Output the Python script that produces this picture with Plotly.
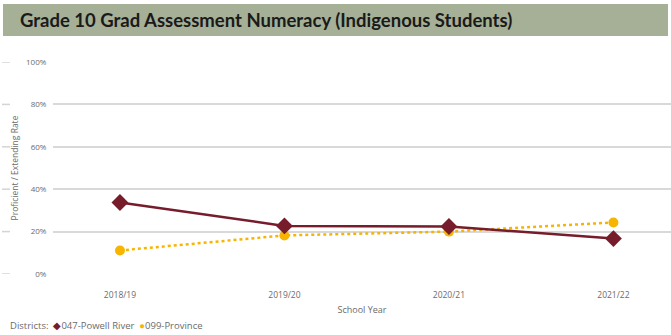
import plotly.graph_objects as go

# School years on the x axis
years = ["2018/19", "2019/20", "2020/21", "2021/22"]

# Proficient / Extending rate (%) for Indigenous students
powell_river = [33.7, 22.7, 22.4, 16.7]
province = [11.1, 18.2, 20.0, 24.3]

y_ticks = [0, 20, 40, 60, 80, 100]
y_tick_labels = ["0%", "20%", "40%", "60%", "80%", "100%"]

MAROON = "#761c2b"
GOLD = "#f7b500"
TEXT = "#6b6b6b"

W, H = 671, 335
ML, MR, MT, MB = 53, 0, 62, 61
PW, PH = W - ML - MR, H - MT - MB


def px_x(px):
    return (px - ML) / PW


def px_y(py):
    return (H - MB - py) / PH


fig = go.Figure()

fig.add_trace(go.Scatter(
    x=years, y=province, mode="lines+markers", name="099-Province",
    line=dict(color=GOLD, width=2.5, dash="dot"),
    marker=dict(symbol="circle", size=10, color=GOLD),
    cliponaxis=False, showlegend=False,
))
fig.add_trace(go.Scatter(
    x=years, y=powell_river, mode="lines+markers", name="047-Powell River",
    line=dict(color=MAROON, width=2.5),
    marker=dict(symbol="diamond", size=13, color=MAROON),
    cliponaxis=False, showlegend=False,
))

# Title banner
fig.add_shape(type="rect", xref="paper", yref="paper",
              x0=px_x(3), x1=px_x(668), y0=px_y(36), y1=px_y(4),
              fillcolor="#a5b096", line=dict(width=0), layer="below")
fig.add_annotation(xref="paper", yref="paper", x=px_x(18), y=px_y(20),
                   xanchor="left", yanchor="middle", showarrow=False,
                   text="<b>Grade 10 Grad Assessment Numeracy (Indigenous Students)</b>",
                   font=dict(family="Lato", size=18.5, color="#1a1a1a"))

# Faint tick marks at the left edge
for v in y_ticks:
    fig.add_shape(type="line", xref="paper", yref="y",
                  x0=px_x(2), x1=px_x(10), y0=v, y1=v,
                  line=dict(color="#d4d4d4", width=1.5))

# Legend line
fig.add_annotation(xref="paper", yref="paper", x=px_x(8), y=px_y(325),
                   xanchor="left", yanchor="middle", showarrow=False,
                   text=("Districts:  <span style='color:%s'>◆</span>047-Powell River  "
                         "<span style='color:%s'>●</span>099-Province") % (MAROON, GOLD),
                   font=dict(family="Open Sans", size=9.5, color=TEXT))

fig.update_layout(
    width=W, height=H,
    margin=dict(l=ML, r=MR, t=MT, b=MB),
    paper_bgcolor="white", plot_bgcolor="white",
    font=dict(family="Open Sans", size=8.5, color=TEXT),
    xaxis=dict(
        type="category", range=[-0.407, 3.35],
        showgrid=False, zeroline=False, showline=False,
        ticks="outside", ticklen=13, tickcolor="rgba(0,0,0,0)",
        title=dict(text="School Year", standoff=7, font=dict(size=9, color=TEXT)),
    ),
    yaxis=dict(
        range=[0, 100], tickvals=y_ticks, ticktext=y_tick_labels,
        showgrid=True, gridcolor="#d9d9d9", gridwidth=1.5,
        zeroline=False, showline=False,
        ticks="outside", ticklen=4, tickcolor="rgba(0,0,0,0)",
        tickfont=dict(size=8),
        title=dict(text="Proficient / Extending Rate", standoff=6,
                   font=dict(size=8.5, color=TEXT)),
    ),
)

fig.write_html("out.html")
